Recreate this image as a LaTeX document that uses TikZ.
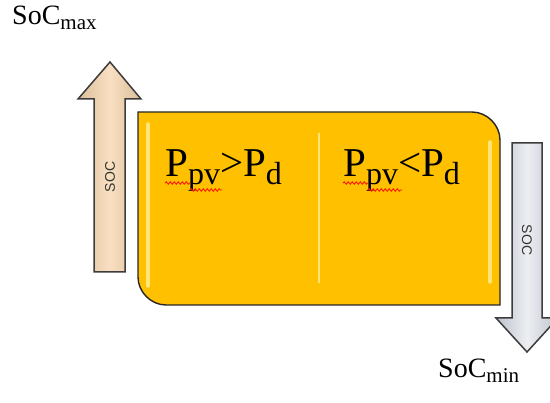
\documentclass[tikz,border=0pt]{standalone}
\usepackage{fontspec}
\setmainfont{Liberation Serif}
\newfontfamily\arrowfont{Liberation Sans}
\usetikzlibrary{decorations.pathmorphing}
\definecolor{boxgold}{RGB}{255,192,0}
\definecolor{boxshine}{RGB}{255,228,120}
\definecolor{edgegray}{RGB}{60,60,60}
\definecolor{tanlight}{RGB}{250,224,194}
\definecolor{tandark}{RGB}{218,190,154}
\definecolor{steellight}{RGB}{236,238,242}
\definecolor{steeldark}{RGB}{190,195,204}

% lowered small text for the indices
\newcommand{\powsub}[1]{\raisebox{-8pt}{\fontsize{32}{32}\selectfont #1}}
\newcommand{\socsub}[1]{\raisebox{-5pt}{\fontsize{21}{21}\selectfont #1}}

\begin{document}
\begin{tikzpicture}[
  x=1pt, y=-1pt,
  board/.style={draw=black!85, line width=1.4pt, fill=boxgold},
  shine/.style={boxshine, line width=3.5pt, line cap=round},
  socarrow/.style={draw=edgegray, line width=1.5pt, line join=miter},
  chargearrow/.style={socarrow, left color=tandark, right color=tandark, middle color=tanlight},
  drainarrow/.style={socarrow, left color=steeldark, right color=steeldark, middle color=steellight},
  arrowlabel/.style={font=\arrowfont\fontsize{14}{14}\selectfont, text=black!80, inner sep=0pt},
  condition/.style={font=\fontsize{41}{41}\selectfont, anchor=base west, inner sep=0pt},
  limit/.style={font=\fontsize{28}{28}\selectfont, anchor=base west, inner sep=0pt},
  squiggle/.style={red!80!orange, line width=0.9pt,
                   decorate, decoration={snake, segment length=4pt, amplitude=1.2pt}},
]
\useasboundingbox (0,0) rectangle (550,403);

% rising state of charge
\path[chargearrow] (94,272) -- (94,99) -- (78,99) -- (110,62) -- (141,99)
  -- (125,99) -- (125,272) -- cycle;
\node[arrowlabel, rotate=90] (socup) at (110,177) {SOC};

% operating region
\path[board] (138,112) -- (472,112) .. controls (487,112) and (500,125) .. (500,140)
  -- (500,305) -- (166,305) .. controls (151,305) and (138,292) .. (138,277) -- cycle;
\draw[shine] (148,124) -- (148,286);
\draw[shine] (490,142) -- (490,282);
\draw[boxshine, line width=1.5pt] (319,133) -- (319,283);

\node[condition] (surplus) at (165,177) {P\powsub{pv}>P\powsub{d}};
\node[condition] (deficit) at (343,177) {P\powsub{pv}<P\powsub{d}};
\draw[squiggle] (165,183) -- (190,183);
\draw[squiggle] (190,190) -- (222,190);
\draw[squiggle] (343,183) -- (368,183);
\draw[squiggle] (368,190) -- (402,190);

% falling state of charge
\path[drainarrow] (512,143) -- (542,143) -- (542,318) -- (558,318) -- (527,352)
  -- (496,318) -- (512,318) -- cycle;
\node[arrowlabel, rotate=-90] (socdown) at (527,240) {SOC};

\node[limit] (socmax) at (12,25) {SoC\socsub{max}};
\node[limit] (socmin) at (438,378) {SoC\socsub{min}};
\end{tikzpicture}
\end{document}
